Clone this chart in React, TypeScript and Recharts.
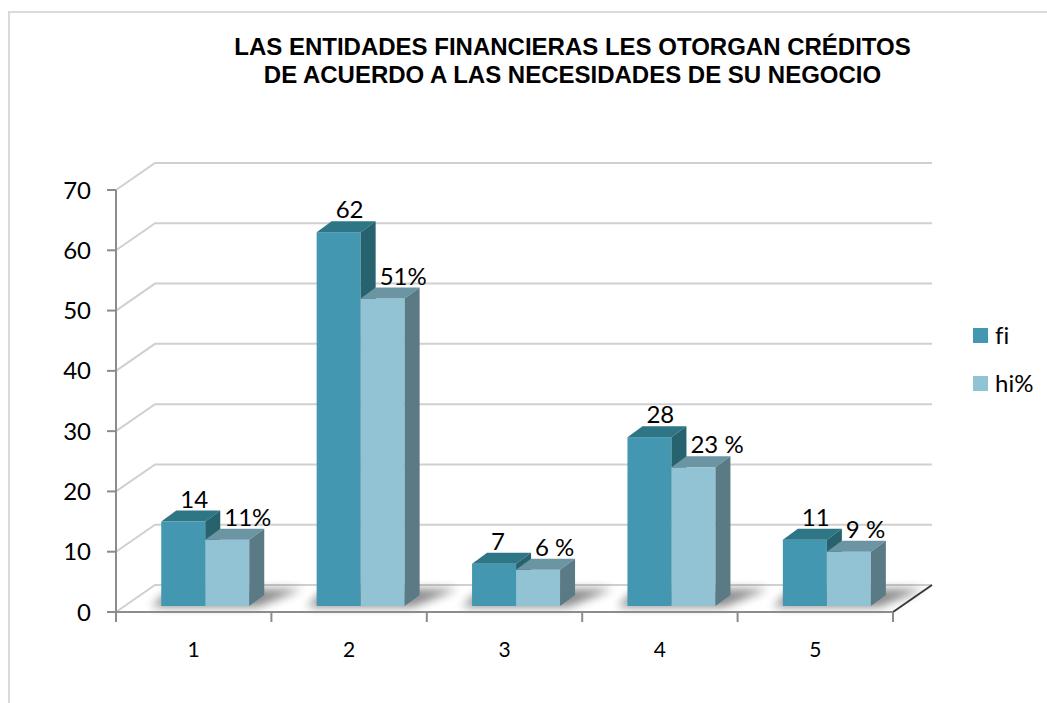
import React from 'react';
import { BarChart, Bar, XAxis, YAxis, CartesianGrid, LabelList, Legend } from 'recharts';

const categories = ['1', '2', '3', '4', '5'];
const fiValues = [14, 62, 7, 28, 11];
const hiValues = [11, 51, 6, 23, 9];
const hiLabels = ['11%', '51%', '6 %', '23 %', '9 %'];
const yTicks = [0, 10, 20, 30, 40, 50, 60, 70];
const seriesNames = ['fi', 'hi%'];
const titleLines = [
  'LAS ENTIDADES FINANCIERAS LES OTORGAN CRÉDITOS',
  'DE ACUERDO A LAS NECESIDADES DE SU NEGOCIO',
];

const data = categories.map((c, i) => ({ name: c, fi: fiValues[i], hi: hiValues[i] }));

const W = 1047;
const H = 703;
const MARGIN = { top: 190, right: 154, left: 56, bottom: 61 };
const Y_AXIS_W = 60;
const X_AXIS_H = 30;
const PLOT_W = W - MARGIN.left - Y_AXIS_W - MARGIN.right;
const BAND = PLOT_W / categories.length;

// 3D geometry (depth offsets)
const WALL_DX = 39;
const WALL_DY = 27;
const SX = 12; // bar plane shift from front plane
const SY = -6;
const BDX = 15; // bar depth
const BDY = 11;

const FONT = 'Lato, "Open Sans", sans-serif';
const NO_LIGA: React.CSSProperties = { fontVariantLigatures: 'none', fontFeatureSettings: '"liga" 0' };

const COLORS = {
  fi: { front: '#4397B0', top: '#2E7586', side: '#27626F' },
  hi: { front: '#92C3D5', top: '#6C95A4', side: '#5A7B86' },
};

function GridLine(props: any) {
  const { x1, y1, x2, y, height } = props;
  const isFloor = Math.abs(y1 - (y + height)) < 0.5;
  return (
    <g>
      <polyline
        points={`${x1},${y1} ${x1 + WALL_DX},${y1 - WALL_DY} ${x2 + WALL_DX},${y1 - WALL_DY}`}
        fill="none"
        stroke="#D0D0D0"
        strokeWidth={2}
      />
      {isFloor && (
        <line x1={x2} y1={y1} x2={x2 + WALL_DX} y2={y1 - WALL_DY} stroke="#3C3C3C" strokeWidth={2} />
      )}
    </g>
  );
}

function makeShape(c: { front: string; top: string; side: string }, withShadow: boolean) {
  return (props: any) => {
    const { x, y, width, height } = props;
    const L = x + SX;
    const T = y + SY;
    const B = T + height;
    const R = L + width;
    return (
      <g>
        {withShadow && (
          <g>
            <defs>
              <filter id="barShadowBlur" x="-50%" y="-50%" width="200%" height="200%">
                <feGaussianBlur stdDeviation="5" />
              </filter>
            </defs>
            <polygon
              points={`${L - 10},${B + 1} ${L + 2 * width + 8},${B + 1} ${L + 2 * width + BDX + 38},${B - BDY - 6} ${L + BDX - 6},${B - BDY - 6}`}
              fill="#000"
              opacity={0.45}
              filter="url(#barShadowBlur)"
            />
          </g>
        )}
        <rect x={L} y={T} width={width} height={height} fill={c.front} />
        <polygon
          points={`${L},${T} ${L + BDX},${T - BDY} ${R + BDX},${T - BDY} ${R},${T}`}
          fill={c.top}
        />
        <polygon
          points={`${R},${T} ${R + BDX},${T - BDY} ${R + BDX},${B - BDY} ${R},${B}`}
          fill={c.side}
        />
      </g>
    );
  };
}

const FiShape = makeShape(COLORS.fi, true);
const HiShape = makeShape(COLORS.hi, false);

function makeLabel(texts: string[]) {
  return (props: any) => {
    const { x, y, index } = props;
    return (
      <text
        x={x + SX + 19}
        y={y + SY - 14}
        textAnchor="start"
        fontFamily={FONT}
        fontSize={24}
        fill="#000"
      >
        {texts[index]}
      </text>
    );
  };
}

const fiLabelTexts = fiValues.map((v) => String(v));

function XTick(props: any) {
  const { x, y, payload, index } = props;
  const left = x - BAND / 2;
  const right = x + BAND / 2;
  return (
    <g>
      <line x1={left} y1={y} x2={left} y2={y + 10} stroke="#8C8C8C" strokeWidth={2} />
      {index === categories.length - 1 && (
        <line x1={right} y1={y} x2={right} y2={y + 10} stroke="#8C8C8C" strokeWidth={2} />
      )}
      <text x={x} y={y + 45} textAnchor="middle" fontFamily={FONT} fontSize={21} fill="#000">
        {payload.value}
      </text>
    </g>
  );
}

function LegendContent() {
  const cols = [COLORS.fi.front, COLORS.hi.front];
  return (
    <div style={{ position: 'absolute', left: 973, top: 321, width: 80 }}>
      {seriesNames.map((n, i) => (
        <div key={n} style={{ display: 'flex', alignItems: 'center', height: 28, marginBottom: 20 }}>
          <div style={{ width: 15, height: 15, background: cols[i], marginRight: 7 }} />
          <span style={{ fontFamily: FONT, fontSize: 24, color: '#000', lineHeight: '28px', ...NO_LIGA }}>{n}</span>
        </div>
      ))}
    </div>
  );
}

export default function App() {
  return (
    <div style={{ position: 'absolute', left: 0, top: 0, width: W, height: H, overflow: 'hidden', background: '#fff' }}>
      <div
        style={{
          position: 'absolute',
          left: 8,
          top: 11,
          width: W + 20,
          height: H + 20,
          borderTop: '2px solid #D9D9D9',
          borderLeft: '2px solid #D9D9D9',
        }}
      />
      <div
        style={{
          position: 'absolute',
          left: 0,
          top: 33,
          width: 1145,
          textAlign: 'center',
          fontFamily: '"Liberation Sans", Arial, sans-serif',
          fontWeight: 'bold',
          fontSize: 24,
          lineHeight: '28px',
          color: '#000',
        }}
      >
        {titleLines.map((t) => (
          <div key={t}>{t}</div>
        ))}
      </div>
      <div style={{ position: 'absolute', left: 0, top: 0 }}>
        <BarChart width={W} height={H} data={data} margin={MARGIN} barGap={0} barCategoryGap="21.4%">
          <CartesianGrid horizontal={(p: any) => <GridLine {...p} />} vertical={false} />
          <XAxis
            dataKey="name"
            height={X_AXIS_H}
            interval={0}
            axisLine={{ stroke: '#8C8C8C', strokeWidth: 2 }}
            tickLine={false}
            tickSize={0}
            tickMargin={0}
            tick={(p: any) => <XTick {...p} />}
          />
          <YAxis
            width={Y_AXIS_W}
            domain={[0, 70]}
            ticks={yTicks}
            interval={0}
            axisLine={{ stroke: '#8C8C8C', strokeWidth: 2 }}
            tickLine={{ stroke: '#8C8C8C', strokeWidth: 2 }}
            tickSize={9}
            tickMargin={16}
            tick={{ fontFamily: FONT, fontSize: 24, fill: '#000' }}
          />
          <Legend
            content={() => <LegendContent />}
            wrapperStyle={{ left: 0, top: 0, width: 0, height: 0 }}
          />
          <Bar dataKey="fi" name={seriesNames[0]} fill={COLORS.fi.front} shape={FiShape} isAnimationActive={false}>
            <LabelList dataKey="fi" content={makeLabel(fiLabelTexts)} />
          </Bar>
          <Bar dataKey="hi" name={seriesNames[1]} fill={COLORS.hi.front} shape={HiShape} isAnimationActive={false}>
            <LabelList dataKey="hi" content={makeLabel(hiLabels)} />
          </Bar>
        </BarChart>
      </div>
    </div>
  );
}
